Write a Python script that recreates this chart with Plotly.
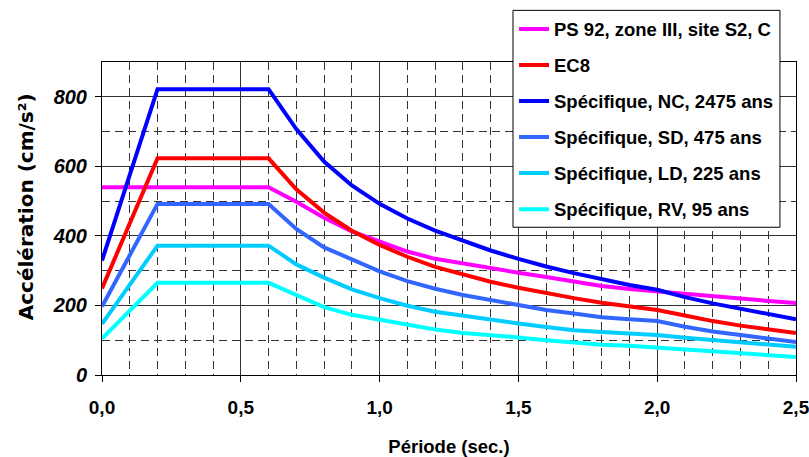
import plotly.graph_objects as go

periods = [0.0, 0.2, 0.6, 0.7, 0.8, 0.9, 1.0, 1.1, 1.2, 1.3, 1.4, 1.5, 1.6, 1.7, 1.8, 1.9, 2.0, 2.1, 2.2, 2.3, 2.4, 2.5]

ps92 = [540, 540, 540, 498, 452, 413, 383, 355, 334, 320, 307, 294, 282, 268, 256, 247, 240, 232, 225, 219, 213, 207]
ec8 = [249, 623, 623, 534, 467, 415, 374, 340, 311, 288, 268, 251, 235, 221, 208, 197, 187, 171, 155, 142, 132, 121]
nc_2475 = [329, 822, 822, 707, 614, 545, 492, 450, 415, 385, 358, 334, 312, 293, 275, 259, 245, 224, 206, 191, 177, 160]
sd_475 = [197, 492, 492, 420, 367, 332, 298, 270, 248, 230, 215, 201, 187, 177, 166, 160, 155, 139, 125, 115, 105, 95]
ld_225 = [147, 372, 372, 318, 280, 246, 221, 199, 182, 170, 158, 148, 138, 129, 124, 119, 115, 107, 100, 93, 88, 81]
rv_95 = [105, 265, 265, 229, 195, 173, 159, 143, 131, 121, 115, 108, 100, 93, 87, 84, 79, 72, 67, 62, 57, 52]

series_names = [
    "PS 92, zone III, site S2, C",
    "EC8",
    "Spécifique, NC, 2475 ans",
    "Spécifique, SD, 475 ans",
    "Spécifique, LD, 225 ans",
    "Spécifique, RV, 95 ans",
]
series_values = [ps92, ec8, nc_2475, sd_475, ld_225, rv_95]
series_colors = ["#FF00FF", "#FF0000", "#0000FF", "#3366FF", "#00CCFF", "#00FFFF"]

x_ticks = [0.0, 0.5, 1.0, 1.5, 2.0, 2.5]
x_ticktext = ["0,0", "0,5", "1,0", "1,5", "2,0", "2,5"]
y_ticks = [0, 200, 400, 600, 800]

FONT = "Liberation Sans, Arial, sans-serif"

fig = go.Figure()
for i, (name, vals, col) in enumerate(zip(series_names, series_values, series_colors)):
    fig.add_trace(go.Scatter(
        x=periods, y=vals, name=name, mode="lines",
        line=dict(color=col, width=4),
        legendgroup=f"g{i}",
    ))

fig.update_layout(
    width=809, height=457,
    margin=dict(l=102, r=13, t=62, b=82, autoexpand=False),
    paper_bgcolor="white", plot_bgcolor="white",
    font=dict(family=FONT, size=18.5, color="black", weight="bold"),
    showlegend=True,
    legend=dict(
        x=0.5937, y=1.165, xanchor="left", yanchor="top",
        bgcolor="rgba(0,0,0,0)", borderwidth=0,
        font=dict(family=FONT, size=18.5, color="black", weight="bold"),
        tracegroupgap=9,
        itemwidth=30,
    ),
    shapes=[
        # legend frame (white box with black border)
        dict(type="rect", xref="paper", yref="paper",
             x0=0.5922, x1=0.9769, y0=0.472, y1=1.165,
             fillcolor="white", line=dict(color="black", width=1), layer="above"),
    ],
    xaxis=dict(
        range=[0, 2.5],
        tickvals=x_ticks, ticktext=x_ticktext,
        ticks="outside", ticklen=6, tickcolor="black",
        showline=True, linecolor="black", linewidth=1, mirror=True,
        showgrid=True, gridcolor="#333333", gridwidth=1,
        zeroline=False,
        minor=dict(dtick=0.1, showgrid=True, gridcolor="#333333", griddash="8px,5px", gridwidth=1),
        tickfont=dict(family=FONT, size=19, color="black", weight="bold"),
        ticklabelstandoff=9,
        ticklabeloverflow="allow",
        title=dict(text="Période (sec.)", font=dict(family=FONT, size=18.5, weight="bold"), standoff=29),
    ),
    yaxis=dict(
        range=[0, 900],
        tickvals=y_ticks,
        ticks="outside", ticklen=6, tickcolor="black",
        showline=True, linecolor="black", linewidth=1, mirror=True,
        showgrid=True, gridcolor="#333333", gridwidth=1,
        zeroline=False,
        minor=dict(dtick=100, showgrid=True, gridcolor="#333333", griddash="8px,5px", gridwidth=1),
        tickfont=dict(family=FONT, size=20, color="black", weight="bold", style="italic"),
        ticklabelstandoff=4,
    ),
    annotations=[
        dict(text="Accélération (cm/s²)", xref="paper", yref="paper",
             x=-0.1095, y=0.536, xanchor="center", yanchor="middle",
             textangle=-90, showarrow=False,
             font=dict(family="DejaVu Sans, sans-serif", size=20, color="black", weight="bold")),
    ],
)

fig.write_html("out.html", config={"displayModeBar": False},
               post_script="document.body.style.margin='0';")
